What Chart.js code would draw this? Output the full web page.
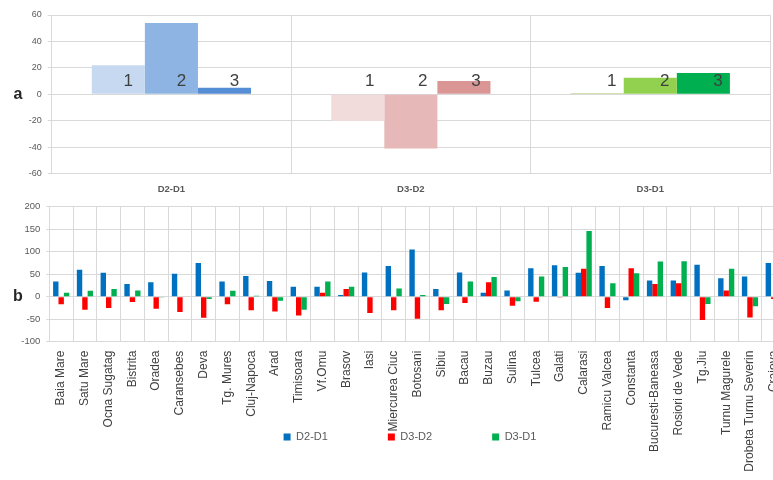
<!DOCTYPE html>
<html>
<head>
<meta charset="utf-8">
<script src="https://cdn.jsdelivr.net/npm/chart.js@4.4.1/dist/chart.umd.min.js"></script>
<style>
  html, body { margin: 0; padding: 0; background: #ffffff; overflow: hidden; width: 773px; height: 480px; }
  #topWrap { position: absolute; left: 0; top: 0; width: 773px; height: 198px; }
  #botWrap { position: absolute; left: 0; top: 195px; width: 820px; height: 450px; }
</style>
</head>
<body>
<div id="topWrap"><canvas id="topChart" width="773" height="198"></canvas></div>
<div id="botWrap"><canvas id="botChart" width="820" height="450"></canvas></div>
<script>
// ---------- Panel a data ----------
const topCategories = ['D2-D1', 'D3-D2', 'D3-D1'];
const topSeriesNames = ['1', '2', '3'];
const topSeries1 = [22, -20, 1];
const topSeries2 = [54, -41, 12.5];
const topSeries3 = [5, 10, 16];
const topTickMin = -60, topTickMax = 60, topTickStep = 20;

// ---------- Panel b data ----------
const stations = ['Baia Mare', 'Satu Mare', 'Ocna Sugatag', 'Bistrita', 'Oradea', 'Caransebes', 'Deva',
  'Tg. Mures', 'Cluj-Napoca', 'Arad', 'Timisoara', 'Vf.Omu', 'Brasov', 'Iasi', 'Miercurea Ciuc',
  'Botosani', 'Sibiu', 'Bacau', 'Buzau', 'Sulina', 'Tulcea', 'Galati', 'Calarasi', 'Ramicu Valcea',
  'Constanta', 'Bucuresti-Baneasa', 'Rosiori de Vede', 'Tg.Jiu', 'Turnu Magurele',
  'Drobeta Turnu Severin', 'Craiova'];
const seriesNames = ['D2-D1', 'D3-D2', 'D3-D1'];
const d2d1 = [34, 60, 53, 28, 32, 51, 75, 34, 46, 35, 22, 22, 4, 54, 68, 105, 17, 54, 9, 14, 63, 70, 53, 68, -8, 36, 36, 71, 41, 45, 75];
const d3d2 = [-17, -29, -25, -12, -27, -34, -47, -17, -30, -33, -42, 9, 17, -36, -30, -49, -30, -14, 32, -20, -11, -2, 62, -25, 63, 28, 30, -52, 14, -46, -5];
const d3d1 = [9, 13, 17, 14, -2, 1, -5, 13, 2, -9, -29, 34, 22, 0, 18, 4, -16, 34, 44, -10, 45, 66, 146, 30, 52, 78, 79, -16, 62, -21, 70];
const botTickMin = -100, botTickMax = 200, botTickStep = 50;

// ---------- styles ----------
const topColors = [
  ['#c6d9f1', '#f2dcdb', '#c4d79b'],
  ['#8db4e2', '#e6b9b8', '#92d050'],
  ['#558ed5', '#da9694', '#00b050']
];
const botColors = ['#0070c0', '#ff0000', '#00b050'];
const gridColor = '#d9d9d9';
const FONT = "'Liberation Sans', Arial, sans-serif";

Chart.defaults.font.family = FONT;
Chart.defaults.animation = false;

function panelLetter(letter, x, yValue) {
  return {
    id: 'letter' + letter,
    afterDraw(chart) {
      const ctx = chart.ctx;
      const y = chart.scales.y.getPixelForValue(yValue);
      ctx.save();
      ctx.font = "bold 16px " + FONT;
      ctx.fillStyle = '#262626';
      ctx.textAlign = 'center';
      ctx.textBaseline = 'middle';
      ctx.fillText(letter, x, y);
      ctx.restore();
    }
  };
}

const barNumberLabels = {
  id: 'barNumberLabels',
  afterDatasetsDraw(chart, args, opts) {
    const ctx = chart.ctx;
    const zeroY = chart.scales.y.getPixelForValue(0);
    ctx.save();
    ctx.font = "17px " + FONT;
    ctx.fillStyle = '#404040';
    ctx.textAlign = 'center';
    ctx.textBaseline = 'middle';
    chart.data.datasets.forEach((ds, i) => {
      const meta = chart.getDatasetMeta(i);
      meta.data.forEach((el, j) => {
        ctx.fillText(ds.label, el.x + opts.dx[j], zeroY - 13);
      });
    });
    ctx.restore();
  }
};

// moves the legend up so it sits level with the lower part of the rotated labels
const legendPlace = {
  id: 'legendPlace',
  afterLayout(chart, args, opts) {
    const lg = chart.legend;
    if (!lg) return;
    const h = lg.bottom - lg.top;
    lg.top = opts.top;
    lg.bottom = opts.top + h;
  }
};

// ---------- Panel a ----------
new Chart(document.getElementById('topChart'), {
  type: 'bar',
  data: {
    labels: topCategories,
    datasets: [
      { label: topSeriesNames[0], data: topSeries1, backgroundColor: topColors[0] },
      { label: topSeriesNames[1], data: topSeries2, backgroundColor: topColors[1] },
      { label: topSeriesNames[2], data: topSeries3, backgroundColor: topColors[2] }
    ]
  },
  options: {
    responsive: false,
    devicePixelRatio: 1,
    layout: { padding: { top: 15, right: 3, bottom: 0, left: 0 } },
    datasets: { bar: { categoryPercentage: 0.665, barPercentage: 1.0, borderWidth: 0 } },
    plugins: {
      legend: { display: false },
      tooltip: { enabled: false },
      barNumberLabels: { dx: [10, 12, 14.5] }
    },
    scales: {
      x: {
        grid: { color: gridColor, drawTicks: false, offset: true },
        border: { color: gridColor },
        ticks: { font: { size: 9.5, weight: 'bold' }, color: '#595959', padding: 10 },
        afterFit(s) { s.height = 24.5; }
      },
      y: {
        min: topTickMin, max: topTickMax,
        grid: { color: gridColor, tickLength: 4 },
        border: { color: gridColor },
        ticks: { stepSize: topTickStep, font: { size: 9 }, color: '#595959', padding: 6 },
        afterFit(s) { s.width = 51.7; }
      }
    }
  },
  plugins: [barNumberLabels, panelLetter('a', 18, 0)]
});

// ---------- Panel b ----------
new Chart(document.getElementById('botChart'), {
  type: 'bar',
  data: {
    labels: stations,
    datasets: [
      { label: seriesNames[0], data: d2d1, backgroundColor: botColors[0] },
      { label: seriesNames[1], data: d3d2, backgroundColor: botColors[1] },
      { label: seriesNames[2], data: d3d1, backgroundColor: botColors[2] }
    ]
  },
  options: {
    responsive: false,
    devicePixelRatio: 1,
    layout: { padding: { top: 8.7, right: 0, bottom: 82.3, left: 0 } },
    datasets: { bar: { categoryPercentage: 0.68, barPercentage: 1.0, borderWidth: 0 } },
    plugins: {
      tooltip: { enabled: false },
      legend: {
        position: 'bottom',
        labels: {
          boxWidth: 7, boxHeight: 7, padding: 60,
          color: '#595959', font: { size: 11 }
        }
      },
      legendPlace: { top: 176.5 }
    },
    scales: {
      x: {
        grid: { color: gridColor, drawTicks: false, offset: true },
        border: { color: gridColor },
        ticks: { autoSkip: false, minRotation: 90, maxRotation: 90, font: { size: 12 }, color: '#404040', padding: 9 },
        afterFit(s) { s.height = 140; }
      },
      y: {
        min: botTickMin, max: botTickMax,
        grid: { color: gridColor, tickLength: 3 },
        border: { color: gridColor },
        ticks: { stepSize: botTickStep, font: { size: 9.5 }, color: '#595959', padding: 6 },
        afterFit(s) { s.width = 49.3; }
      },
      yR: {
        position: 'right',
        display: true,
        grid: { display: false, drawTicks: false },
        border: { display: false },
        ticks: { display: false },
        afterFit(s) { s.width = 34.4; }
      }
    }
  },
  plugins: [legendPlace, panelLetter('b', 18, 0)]
});
</script>
</body>
</html>
